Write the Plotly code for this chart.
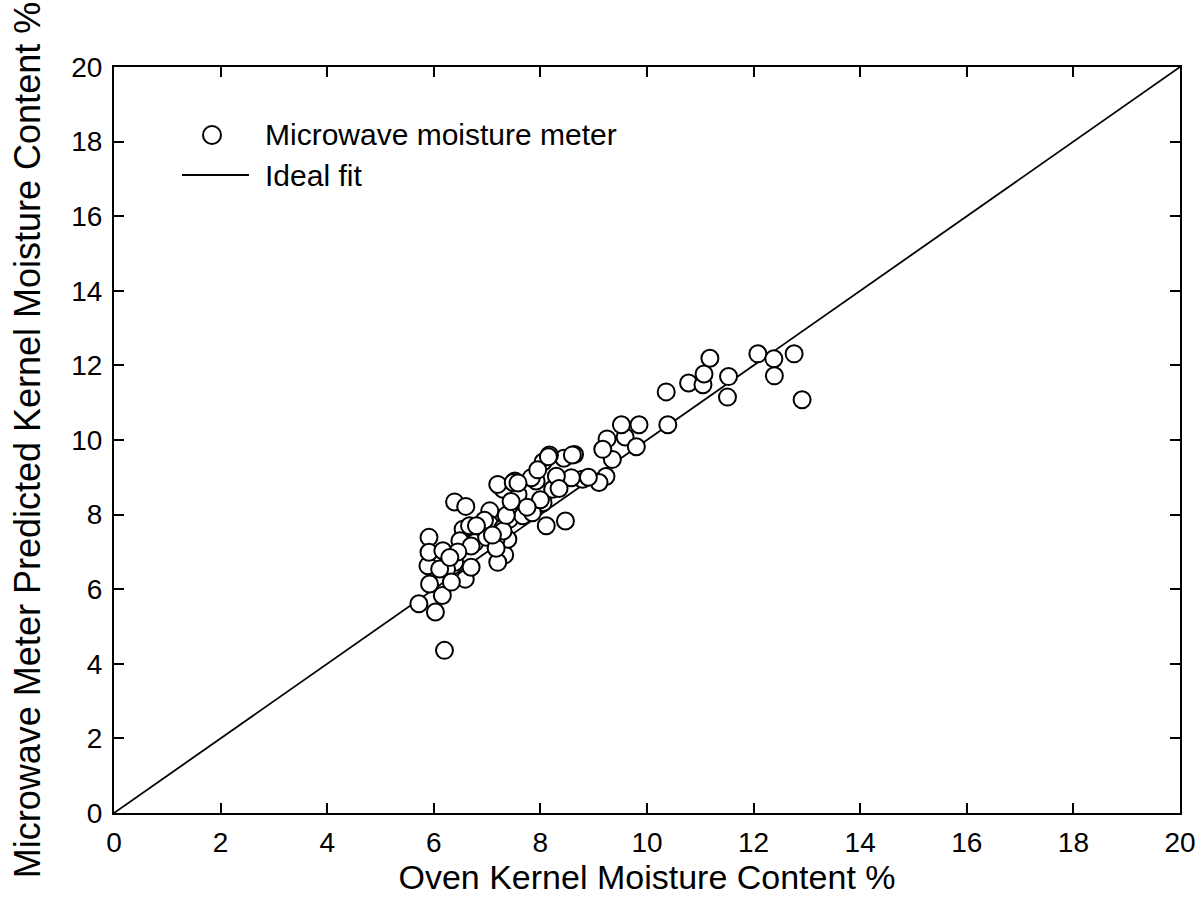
import plotly.graph_objects as go

oven_mc = [
    6.20, 5.72, 6.03, 6.16, 5.92, 6.59, 6.39, 6.02, 5.89, 5.91, 5.91, 6.17, 6.24, 6.11,
    6.33, 6.39, 6.60, 6.70, 6.86, 6.61, 6.55, 6.49, 6.77, 6.67, 7.05, 6.99, 7.05, 7.29,
    7.33, 7.20, 7.42, 7.39, 7.17, 7.30, 7.33, 7.23, 7.58, 7.52, 7.67, 7.92, 8.05, 8.05,
    8.23, 8.11, 8.47, 8.44, 8.64, 8.79, 8.58, 9.23, 9.10, 9.35, 9.25, 9.59, 9.80, 9.52,
    9.85, 10.39, 9.17, 10.36, 10.78, 11.05, 11.07, 11.18, 11.53, 11.51, 12.08, 12.38,
    12.39, 12.76, 12.91, 8.17, 8.30, 7.83, 7.30, 7.20, 7.49, 7.36, 7.17, 6.70, 7.58,
    7.95, 8.15, 7.85, 8.60, 8.00, 7.75, 7.45, 6.95, 6.80, 7.10, 8.35, 8.90, 6.45, 6.30,
]
meter_mc = [
    4.36, 5.61, 5.39, 5.83, 6.14, 6.27, 6.72, 6.90, 6.63, 7.39, 6.99, 7.03, 6.54, 6.54,
    6.19, 8.34, 8.22, 6.59, 7.52, 7.25, 7.61, 7.30, 7.25, 7.70, 8.10, 7.39, 7.74, 7.63,
    6.92, 6.72, 7.88, 7.34, 7.34, 7.56, 8.68, 8.77, 8.54, 8.90, 7.97, 8.90, 8.32, 9.41,
    8.68, 7.70, 7.83, 9.51, 9.61, 8.95, 8.99, 9.02, 8.86, 9.48, 10.03, 10.08, 9.82, 10.41,
    10.41, 10.41, 9.75, 11.29, 11.53, 11.48, 11.77, 12.19, 11.70, 11.15, 12.31, 12.18,
    11.72, 12.31, 11.08, 9.60, 9.03, 8.99, 8.68, 8.81, 8.86, 7.98, 7.10, 7.16, 8.85,
    9.20, 9.55, 8.05, 9.60, 8.40, 8.20, 8.35, 7.85, 7.70, 7.45, 8.70, 9.00, 7.00, 6.85,
]

ideal_x = [0, 20]
ideal_y = [0, 20]

x_ticks = [0, 2, 4, 6, 8, 10, 12, 14, 16, 18, 20]
y_ticks = [0, 2, 4, 6, 8, 10, 12, 14, 16, 18, 20]

legend_labels = ["Microwave moisture meter", "Ideal fit"]

W, H = 1199, 906
ML, MR, MT, MB = 114, 19, 67, 93
PW, PH = W - ML - MR, H - MT - MB


def px_x(p):
    return (p - ML) / PW


def px_y(p):
    return (H - MB - p) / PH


fig = go.Figure()
fig.add_trace(go.Scatter(
    x=ideal_x, y=ideal_y, mode="lines", name=legend_labels[1],
    line=dict(color="black", width=1.8), showlegend=False,
))
fig.add_trace(go.Scatter(
    x=oven_mc, y=meter_mc, mode="markers", name=legend_labels[0],
    marker=dict(symbol="circle", size=17, color="white",
                line=dict(color="black", width=2)),
    showlegend=False,
))

# Custom legend (symbols drawn as pixel-sized shapes, labels as annotations)
fig.add_shape(type="circle", xref="paper", yref="paper",
              xsizemode="pixel", ysizemode="pixel",
              xanchor=px_x(212), yanchor=px_y(135),
              x0=-9, x1=9, y0=-9, y1=9,
              line=dict(color="black", width=2), fillcolor="white")
fig.add_shape(type="line", xref="paper", yref="paper",
              x0=px_x(182), x1=px_x(249), y0=px_y(175), y1=px_y(175),
              line=dict(color="black", width=1.8))
for lab, yy in zip(legend_labels, [135, 175]):
    fig.add_annotation(text=lab, xref="paper", yref="paper",
                       x=px_x(263), y=px_y(yy), xanchor="left", yanchor="middle",
                       showarrow=False, font=dict(size=30, color="black"))

axis_common = dict(
    range=[0, 20], showgrid=False, zeroline=False, automargin=False,
    showline=True, linecolor="black", linewidth=2, mirror="ticks",
    ticks="inside", ticklen=10, tickwidth=2, tickcolor="black",
    tickfont=dict(family="Liberation Sans, Arial", size=28, color="black"),
)

fig.update_layout(
    width=W, height=H,
    margin=dict(l=ML, r=MR, t=MT, b=MB),
    plot_bgcolor="white", paper_bgcolor="white",
    font=dict(family="Liberation Sans, Arial", color="black"),
    xaxis=dict(**axis_common, tickvals=x_ticks, ticklabelstandoff=3,
               title=dict(text="Oven Kernel Moisture Content %",
                          font=dict(size=34), standoff=6)),
    yaxis=dict(**axis_common, tickvals=y_ticks, ticklabelstandoff=4,
               title=dict(text="Microwave Meter Predicted Kernel Moisture Content %",
                          font=dict(size=36), standoff=20)),
    showlegend=False,
)

fig.write_html("out.html")
